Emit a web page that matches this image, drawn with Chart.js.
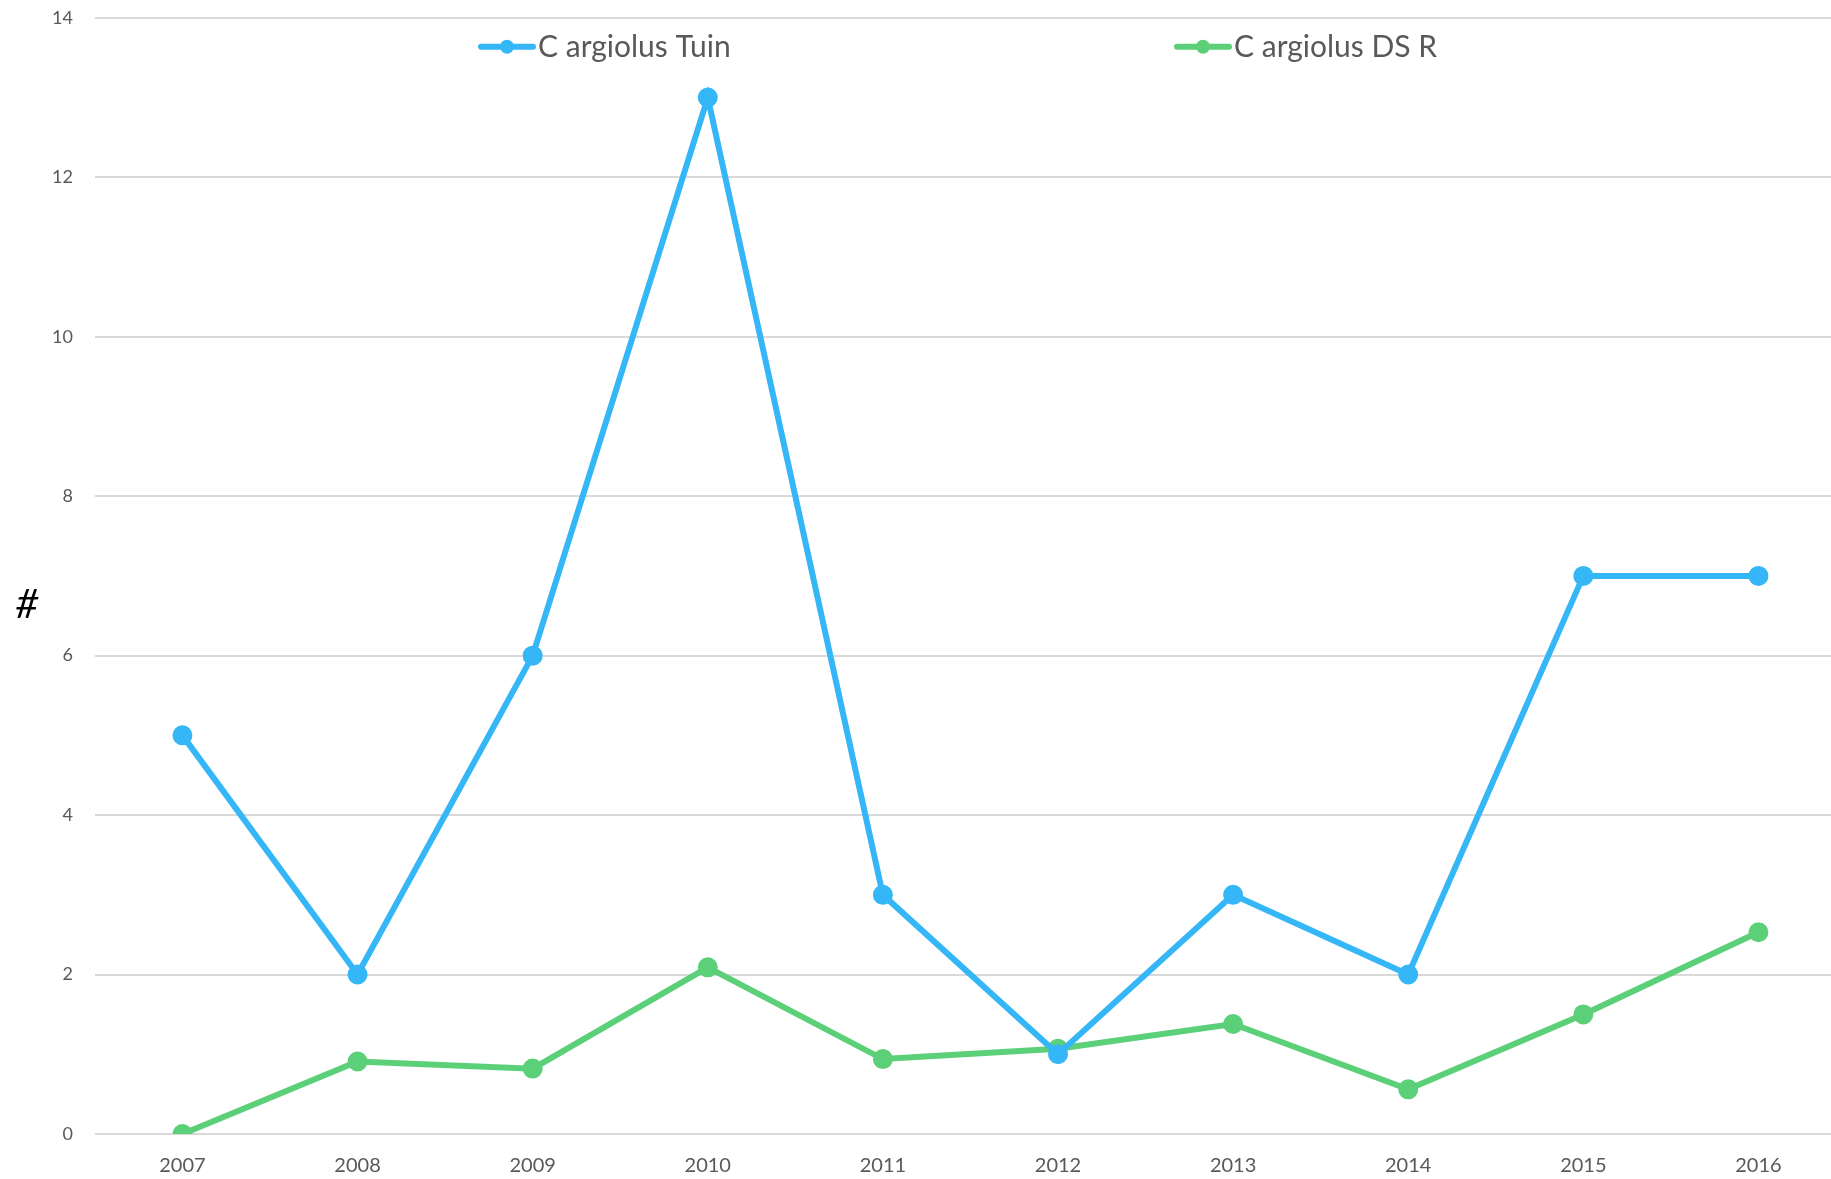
<!DOCTYPE html>
<html lang="en">
<head>
    <meta charset="UTF-8">
    <title>C argiolus</title>
    <script src="https://cdn.jsdelivr.net/npm/chart.js"></script>
    <style>
        html, body { margin: 0; padding: 0; background: #fff; overflow: hidden; }
        body { width: 1831px; height: 1179px; position: relative; }
        #wrap { position: absolute; left: 0; top: -15px; width: 1859px; height: 1209px; }
    </style>
</head>
<body>
    <div id="wrap">
        <canvas id="chart"></canvas>
    </div>
    <script>
        // data
        const years = ['2007', '2008', '2009', '2010', '2011', '2012', '2013', '2014', '2015', '2016'];
        const tuin = [5, 2, 6, 13, 3, 1, 3, 2, 7, 7];
        const dsr = [0, 0.91, 0.82, 2.09, 0.94, 1.07, 1.38, 0.56, 1.5, 2.53];
        const seriesNames = ['C argiolus Tuin', 'C argiolus DS R'];
        const seriesColors = ['#35B6F7', '#5BD078'];
        const yTitle = '#';

        const FONT = 'Lato, "Open Sans", sans-serif';

        // legend sits inside the plot, plus the "#" title at the left
        const overlayPlugin = {
            id: 'overlay',
            afterDraw(chart) {
                const ctx = chart.ctx;
                const area = chart.chartArea;
                ctx.save();
                ctx.font = '30px ' + FONT;
                ctx.textBaseline = 'middle';
                const y = area.top + 29;
                const starts = [481, 1177];
                chart.data.datasets.forEach((ds, i) => {
                    const x = starts[i];
                    ctx.strokeStyle = ds.borderColor;
                    ctx.lineWidth = 6;
                    ctx.lineCap = 'round';
                    ctx.beginPath();
                    ctx.moveTo(x, y);
                    ctx.lineTo(x + 52, y);
                    ctx.stroke();
                    ctx.fillStyle = ds.borderColor;
                    ctx.beginPath();
                    ctx.arc(x + 26, y, 7, 0, Math.PI * 2);
                    ctx.fill();
                    ctx.fillStyle = '#595959';
                    ctx.textAlign = 'left';
                    ctx.fillText(ds.label, x + 57, y + 1);
                });
                ctx.fillStyle = '#000';
                ctx.font = 'italic 40px ' + FONT;
                ctx.textAlign = 'center';
                ctx.fillText(yTitle, 27, (area.top + area.bottom) / 2 + 29);
                ctx.restore();
            }
        };

        new Chart(document.getElementById('chart'), {
            type: 'line',
            data: {
                labels: years,
                datasets: [
                    {
                        label: seriesNames[0],
                        data: tuin,
                        borderColor: seriesColors[0],
                        backgroundColor: seriesColors[0],
                        borderWidth: 6,
                        pointRadius: 7,
                        pointHoverRadius: 7,
                        tension: 0
                    },
                    {
                        label: seriesNames[1],
                        data: dsr,
                        borderColor: seriesColors[1],
                        backgroundColor: seriesColors[1],
                        borderWidth: 6,
                        pointRadius: 7,
                        pointHoverRadius: 7,
                        tension: 0
                    }
                ]
            },
            options: {
                responsive: true,
                maintainAspectRatio: false,
                animation: false,
                layout: { padding: { left: 30, top: 9, bottom: 4, right: 0 } },
                plugins: {
                    legend: { display: false },
                    tooltip: { enabled: false }
                },
                scales: {
                    x: {
                        offset: true,
                        grid: { display: false },
                        border: { display: false },
                        ticks: {
                            color: '#595959',
                            padding: 12,
                            font: { family: FONT, size: 20 }
                        }
                    },
                    y: {
                        min: 0,
                        max: 14,
                        grid: { color: '#d9d9d9', lineWidth: 2, drawTicks: false },
                        border: { display: false },
                        ticks: {
                            stepSize: 2,
                            color: '#595959',
                            padding: 22,
                            font: { family: FONT, size: 18 }
                        }
                    }
                }
            },
            plugins: [overlayPlugin]
        });
    </script>
</body>
</html>
